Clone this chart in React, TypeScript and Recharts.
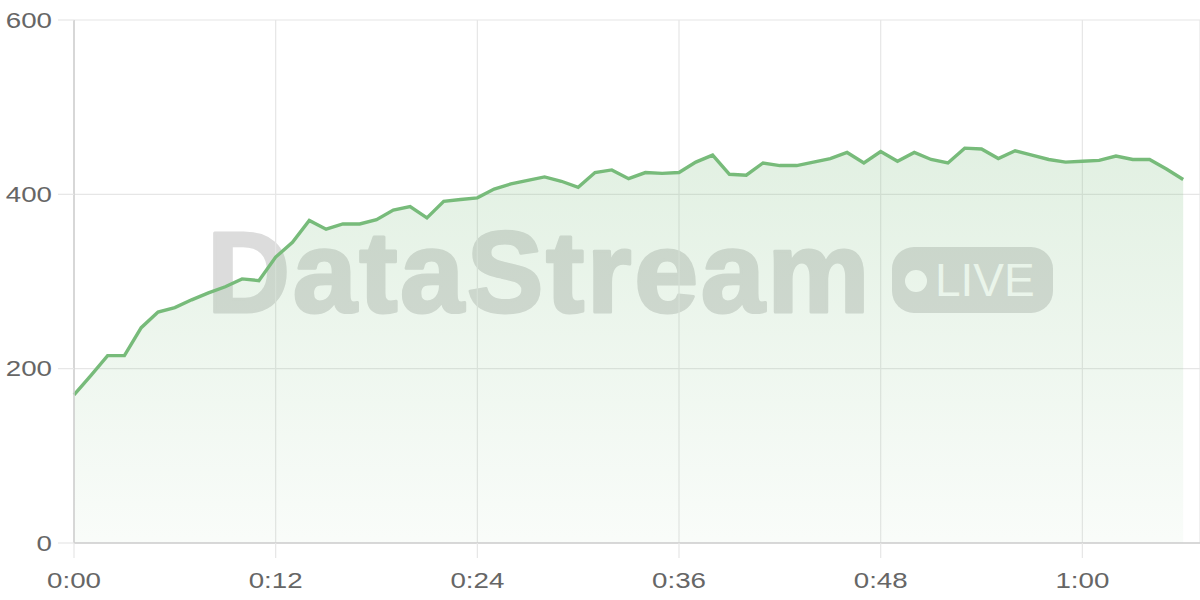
import React from 'react';
import { AreaChart, Area, XAxis, YAxis, CartesianGrid } from 'recharts';

// throughput samples, one per second (0:00 .. 1:06)
const values = [
  170, 192, 215, 215, 247, 265, 270, 279, 287, 294,
  303, 301, 328, 345, 370, 360, 366, 366, 371, 382,
  386, 373, 392, 394, 396, 406, 412, 416, 420, 415,
  408, 425, 428, 418, 425, 424, 425, 437, 445, 423,
  422, 436, 433, 433, 437, 441, 448, 436, 449, 438,
  448, 440, 436, 453, 452, 441, 450, 445, 440, 437,
  438, 439, 444, 440, 440, 429, 417
];
const xTicks = [0, 12, 24, 36, 48, 60];
const yTicks = [0, 200, 400, 600];

const data = values.map((v, i) => ({ t: i, v }));

const fmtTime = (s: number) => `${Math.floor(s / 60)}:${String(s % 60).padStart(2, '0')}`;

const GRID = '#e6e6e6';
const AXIS = '#cfcfcf';
const LINE = '#77bb7a';

// tick text is drawn a bit wider than the stock font
const AxisTick = (props: any) => {
  const { x, y, payload, side } = props;
  const label = side === 'x' ? fmtTime(payload.value) : String(payload.value);
  return (
    <g transform={`translate(${x},${y})`}>
      <text
        transform="scale(1.26,1)"
        textAnchor={side === 'x' ? 'middle' : 'end'}
        dy={side === 'x' ? '0.71em' : '0.355em'}
        fill="#666"
        fontSize={22}
        fontFamily="Liberation Sans, Arial, sans-serif"
      >
        {label}
      </text>
    </g>
  );
};

const Watermark = () => (
  <svg width={1200} height={600} style={{ position: 'absolute', left: 0, top: 0 }}>
    <text
      x={207}
      y={312}
      fontSize={115}
      fontWeight={700}
      letterSpacing={2.6}
      stroke="#dcdcdc"
      strokeWidth={3}
      strokeLinejoin="round"
      fontFamily="Liberation Sans, Arial, sans-serif"
      fill="#dcdcdc"
    >
      DataStream
    </text>
    <rect x={892} y={247} width={161} height={66} rx={22} fill="#dcdcdc" />
    <circle cx={916} cy={281} r={11} fill="#fff" />
    <text x={935} y={296} fontSize={46} fontFamily="Liberation Sans, Arial, sans-serif" fill="#fff">
      LIVE
    </text>
  </svg>
);

export default function App() {
  return (
    <div style={{ position: 'absolute', left: 0, top: 0, width: 1200, height: 600, background: '#fff' }}>
      <Watermark />
      <div style={{ position: 'absolute', left: 0, top: 0 }}>
        <AreaChart width={1200} height={600} data={data} margin={{ top: 20, right: 0, bottom: 0, left: 0 }}>
          <defs>
            <linearGradient id="streamFill" x1="0" y1="0" x2="0" y2="1">
              <stop offset="0%" stopColor={LINE} stopOpacity={0.36} />
              <stop offset="100%" stopColor={LINE} stopOpacity={0.07} />
            </linearGradient>
          </defs>
          <CartesianGrid stroke={GRID} strokeWidth={1.2} />
          <XAxis
            dataKey="t"
            type="number"
            domain={[0, 67]}
            ticks={xTicks}
            height={57}
            tickSize={15}
            tickMargin={14}
            tickLine={{ stroke: GRID, strokeWidth: 1.2 }}
            axisLine={{ stroke: AXIS, strokeWidth: 1.5 }}
            tick={(p: any) => <AxisTick {...p} side="x" />}
          />
          <YAxis
            domain={[0, 600]}
            ticks={yTicks}
            width={74}
            tickSize={16}
            tickMargin={6}
            tickLine={{ stroke: GRID, strokeWidth: 1.2 }}
            axisLine={{ stroke: AXIS, strokeWidth: 1.5 }}
            tick={(p: any) => <AxisTick {...p} side="y" />}
          />
          <Area
            type="linear"
            dataKey="v"
            stroke={LINE}
            strokeWidth={3.4}
            fill="url(#streamFill)"
            dot={false}
            activeDot={false}
            isAnimationActive={false}
          />
        </AreaChart>
      </div>
    </div>
  );
}
